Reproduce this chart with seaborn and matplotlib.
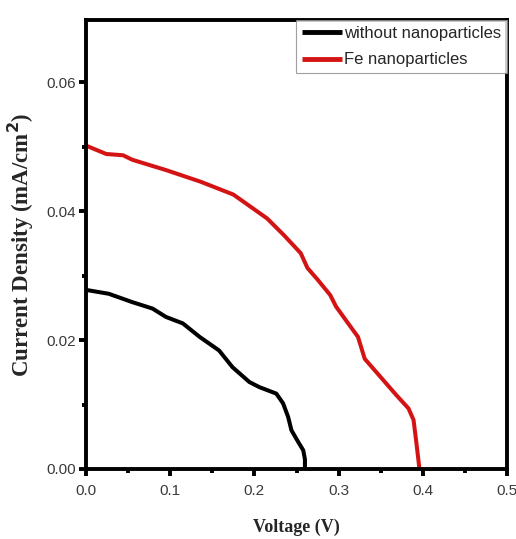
import matplotlib
matplotlib.use("Agg")
import matplotlib.pyplot as plt
from matplotlib.ticker import MultipleLocator, FormatStrFormatter
import seaborn as sns
import pandas as pd

# J-V curves of the two solar cells
series_names = ["without nanoparticles", "Fe nanoparticles"]

voltage_plain = [0.0, 0.027, 0.055, 0.079, 0.095, 0.115, 0.135, 0.158, 0.174,
                 0.194, 0.206, 0.226, 0.234, 0.240, 0.244, 0.252, 0.258, 0.260, 0.260]
current_plain = [0.0278, 0.0272, 0.0259, 0.0249, 0.0236, 0.0226, 0.0205, 0.0184, 0.0158,
                 0.0135, 0.0127, 0.0117, 0.0102, 0.0081, 0.0060, 0.0042, 0.0029, 0.0015, 0.0]

voltage_fe = [0.0, 0.024, 0.044, 0.055, 0.095, 0.136, 0.175, 0.215, 0.235, 0.255,
              0.263, 0.275, 0.290, 0.297, 0.313, 0.323, 0.331, 0.353, 0.369, 0.383,
              0.389, 0.3925, 0.396]
current_fe = [0.0502, 0.0489, 0.0487, 0.0480, 0.0464, 0.0446, 0.0426, 0.0389, 0.0363, 0.0335,
              0.0312, 0.0294, 0.0270, 0.0252, 0.0223, 0.0205, 0.0171, 0.0138, 0.0114, 0.0094,
              0.0076, 0.0039, 0.0]

x_ticks = [0.0, 0.1, 0.2, 0.3, 0.4, 0.5]
y_ticks = [0.00, 0.02, 0.04, 0.06]

df = pd.concat([
    pd.DataFrame({"Voltage": voltage_plain, "Current": current_plain, "Sample": series_names[0]}),
    pd.DataFrame({"Voltage": voltage_fe, "Current": current_fe, "Sample": series_names[1]}),
], ignore_index=True)

sns.set_style("ticks")
plt.rcParams["font.family"] = ["Liberation Sans", "DejaVu Sans"]

fig = plt.figure(figsize=(5.16, 5.39), dpi=100)
ax = fig.add_axes([0.1667, 0.1299, 0.8159, 0.8330])

palette = {series_names[0]: "#000000", series_names[1]: "#d41414"}
sns.lineplot(data=df, x="Voltage", y="Current", hue="Sample", palette=palette,
             sort=False, estimator=None, linewidth=2.9, ax=ax)
for line in ax.lines:
    line.set_solid_capstyle("butt")
    line.set_solid_joinstyle("round")

ax.set_xlim(0, 0.5)
ax.set_ylim(0, 0.0697)
ax.set_xticks(x_ticks)
ax.set_yticks(y_ticks)
ax.xaxis.set_major_formatter(FormatStrFormatter("%.1f"))
ax.yaxis.set_major_formatter(FormatStrFormatter("%.2f"))
ax.xaxis.set_minor_locator(MultipleLocator(0.05))
ax.yaxis.set_minor_locator(MultipleLocator(0.01))

for s in ax.spines.values():
    s.set_visible(True)
    s.set_linewidth(2.8)
    s.set_color("black")

ax.tick_params(which="major", direction="out", length=5, width=2.8, labelsize=11,
               colors="black", labelcolor="#3a3a3a")
ax.tick_params(axis="x", which="major", pad=6)
ax.tick_params(axis="y", which="major", pad=2)
ax.tick_params(which="minor", direction="out", length=3, width=2.8, colors="black")

ax.set_xlabel("Voltage (V)", family="Liberation Serif", weight="bold", size=13,
              labelpad=15)
ax.set_ylabel("Current Density (mA/cm$^\\mathbf{2}$)", family="Liberation Serif",
              weight="bold", size=16.5, labelpad=8)

leg = ax.legend(loc="upper right", borderaxespad=0.0, frameon=True, fancybox=False,
                handlelength=2.4, handletextpad=0.15, borderpad=0.35, labelspacing=0.7,
                prop={"family": "Liberation Sans", "size": 12}, title=None)
leg.get_frame().set_edgecolor("#888888")
leg.get_frame().set_linewidth(0.8)
for h in leg.get_lines():
    h.set_linewidth(3.5)

fig.savefig("out.png", dpi=100)
